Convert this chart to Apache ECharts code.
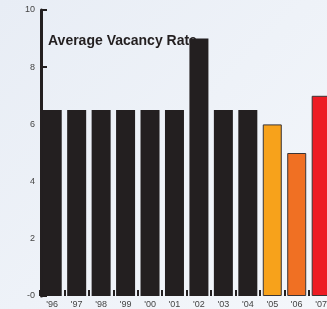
<!DOCTYPE html>
<html>
<head>
<meta charset="utf-8">
<style>
  html, body { margin: 0; padding: 0; }
  #chart { width: 327px; height: 309px; }
</style>
<script src="https://cdn.jsdelivr.net/npm/echarts@6/dist/echarts.min.js"></script>
</head>
<body>
<div id="chart"></div>
<script>
// data
const years = ["'96", "'97", "'98", "'99", "'00", "'01", "'02", "'03", "'04", "'05", "'06", "'07"];
const vacancy = [6.5, 6.5, 6.5, 6.5, 6.5, 6.5, 9.0, 6.5, 6.5, 6.0, 5.0, 7.0];
const barColors = ['#231f20', '#231f20', '#231f20', '#231f20', '#231f20', '#231f20',
                   '#231f20', '#231f20', '#231f20', '#f7a21b', '#f07023', '#ed1c24'];

const chart = echarts.init(document.getElementById('chart'));

const option = {
    backgroundColor: {
        type: 'linear', x: 0, y: 0, x2: 1, y2: 1,
        colorStops: [
            { offset: 0, color: '#e8edf5' },
            { offset: 1, color: '#f4f7fb' }
        ]
    },
    title: {
        text: 'Average Vacancy Rate',
        left: 43,
        top: 29,
        z: 1,
        textStyle: {
            fontFamily: 'Liberation Sans',
            fontSize: 14,
            fontWeight: 'bold',
            color: '#231f20'
        }
    },
    // the plot runs past the right edge of the picture, so set a width
    // and don't let the grid get squeezed back inside
    grid: { left: 40, top: 10, width: 293.4, height: 286, outerBoundsMode: 'none' },
    xAxis: {
        type: 'category',
        data: years,
        axisLine: { show: false },
        axisTick: {
            show: true,
            inside: true,
            length: 6,
            lineStyle: { color: '#231f20', width: 2 }
        },
        axisLabel: {
            margin: 4,
            fontFamily: 'Liberation Sans',
            fontSize: 9,
            color: '#444'
        }
    },
    yAxis: {
        type: 'value',
        min: 0,
        max: 10,
        interval: 2,
        offset: -1,
        splitLine: { show: false },
        axisLine: { show: true, lineStyle: { color: '#231f20', width: 3 } },
        axisTick: {
            show: true,
            inside: true,
            length: 6,
            lineStyle: { color: '#231f20', width: 2 }
        },
        axisLabel: {
            margin: 6,
            fontFamily: 'Liberation Sans',
            fontSize: 9,
            color: '#444',
            formatter: function (v) { return v === 0 ? '-0' : String(v); }
        }
    },
    series: [{
        type: 'bar',
        z: 3,
        barWidth: 19,
        data: vacancy.map(function (v, i) {
            return {
                value: v,
                itemStyle: {
                    color: barColors[i],
                    borderColor: '#3a3536',
                    borderWidth: i >= 9 ? 1 : 0
                }
            };
        })
    }]
};

chart.setOption(option);
</script>
</body>
</html>
